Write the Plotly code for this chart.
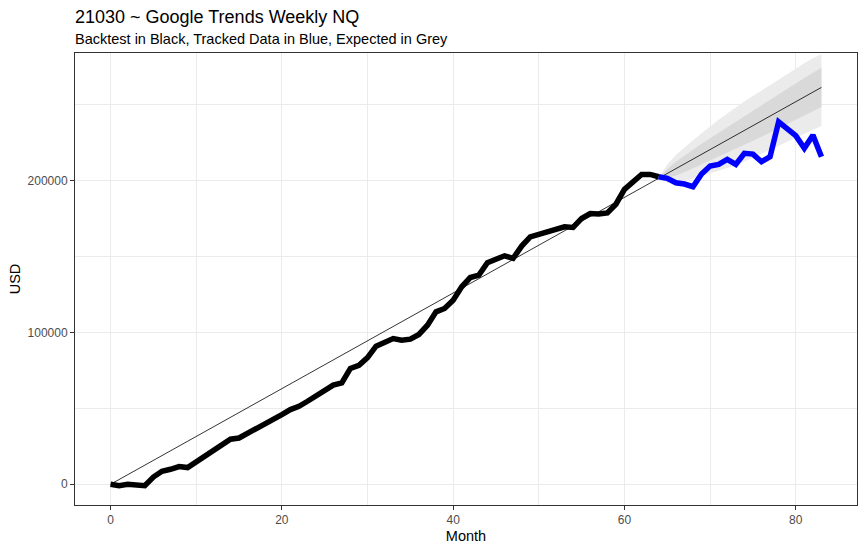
import plotly.graph_objects as go

# Backtest (black), months 0..64
backtest_months = list(range(0, 65))
backtest_usd = [
    0, -900, 0, -900, -900, 4800, 8600, 9900, 11700, 11000,
    14700, 18000, 22400, 26400, 29700, 30500, 33400, 36700, 39300, 42200,
    45900, 49200, 51400, 54700, 58000, 62000, 65300, 66800, 76300, 78400,
    83400, 91000, 93800, 96000, 94900, 95600, 98700, 104800, 113600, 115800,
    121300, 130100, 136200, 137800, 145900, 148100, 150500, 148800, 156900, 163000,
    164600, 166300, 167400, 169600, 169200, 175100, 178400, 178000, 178800, 184500,
    194300, 199300, 204100, 204100, 202600,
]

# Tracked data (blue), months 64..83
tracked_months = list(range(64, 84))
tracked_usd = [
    202600, 201500, 198600, 197800, 196000, 204400, 209600, 210700, 214000, 210700,
    218000, 217500, 212500, 215800, 238800, 234500, 229600, 221300, 230000, 215800,
]

# Expected path (thin black line)
expected_months = [0, 20, 40, 60, 64, 83]
expected_usd = [0, 63000, 126000, 189000, 201600, 261450]

# Expected ranges (grey), months 64..83
band_months = list(range(64, 84))
hi95 = [201600, 210700, 216900, 222000, 226700, 231300, 236000, 240100, 244300, 248400,
        252100, 255700, 259400, 263000, 266600, 270200, 273800, 277400, 280700, 283200]
lo95 = [201600, 198700, 198900, 199600, 201200, 202900, 204500, 206500, 208300, 210000,
        212600, 215000, 217800, 220300, 223000, 225600, 228200, 230900, 233600, 236000]
hi80 = [201600, 207750, 212400, 216550, 220700, 224350, 228000, 231650, 235300, 238950,
        242600, 246250, 249900, 253550, 257000, 260550, 264000, 267550, 271000, 274450]
lo80 = [201600, 201750, 203400, 205550, 207700, 210350, 213000, 215650, 218300, 220950,
        223600, 226250, 228900, 231550, 234400, 237150, 240000, 242750, 245600, 248450]

fig = go.Figure()

# outer band
fig.add_trace(go.Scatter(x=band_months + band_months[::-1], y=hi95 + lo95[::-1],
                         fill="toself", fillcolor="#EBEBEB", line=dict(width=0),
                         mode="lines", hoverinfo="skip"))
# inner band
fig.add_trace(go.Scatter(x=band_months + band_months[::-1], y=hi80 + lo80[::-1],
                         fill="toself", fillcolor="#D9D9D9", line=dict(width=0),
                         mode="lines", hoverinfo="skip"))

fig.add_trace(go.Scatter(x=expected_months, y=expected_usd, mode="lines",
                         line=dict(color="black", width=0.8)))
fig.add_trace(go.Scatter(x=backtest_months, y=backtest_usd, mode="lines",
                         line=dict(color="black", width=5.5)))
fig.add_trace(go.Scatter(x=tracked_months, y=tracked_usd, mode="lines",
                         line=dict(color="#0000FF", width=5.5)))

axis_font = dict(family="Liberation Sans, Arial, sans-serif", size=12, color="#4D4D4D")
title_font = dict(family="Liberation Sans, Arial, sans-serif", size=14.5, color="black")

fig.update_layout(
    width=865, height=551,
    margin=dict(l=75, r=8, t=53, b=46, autoexpand=False),
    paper_bgcolor="white", plot_bgcolor="white",
    showlegend=False,
    font=dict(family="Liberation Sans, Arial, sans-serif"),
    annotations=[
        dict(text="21030 ~ Google Trends Weekly NQ", xref="paper", yref="paper",
             x=0, y=1.0796, xanchor="left", yanchor="middle", showarrow=False,
             xshift=-2, font=dict(size=18, color="black")),
        dict(text="Backtest in Black, Tracked Data in Blue, Expected in Grey",
             xref="paper", yref="paper", x=0, y=1.031, xanchor="left",
             xshift=-2, yanchor="middle", showarrow=False,
             font=dict(size=14.5, color="black")),
    ],
)

fig.update_xaxes(
    range=[-4.15, 87.15], tickvals=[0, 20, 40, 60, 80],
    showgrid=True, gridcolor="#EBEBEB", gridwidth=1,
    minor=dict(tickvals=[10, 30, 50, 70], showgrid=True, gridcolor="#EBEBEB", gridwidth=0.6),
    ticks="outside", ticklen=4, tickcolor="#333333",
    showline=True, linecolor="#333333", linewidth=1, mirror=True,
    zeroline=False, tickfont=axis_font, automargin=False,
    title=dict(text="Month", font=title_font, standoff=4),
)
fig.update_yaxes(
    range=[-13640, 284100], tickvals=[0, 100000, 200000], tickformat="d",
    showgrid=True, gridcolor="#EBEBEB", gridwidth=1,
    minor=dict(tickvals=[50000, 150000, 250000], showgrid=True, gridcolor="#EBEBEB", gridwidth=0.6),
    ticks="outside", ticklen=4, tickcolor="#333333",
    showline=True, linecolor="#333333", linewidth=1, mirror=True,
    zeroline=False, tickfont=axis_font, automargin=False,
    title=dict(text="USD", font=title_font, standoff=3),
)

# drop the default page margin so the figure sits at the window corner
fig.write_html("out.html", config={"displayModeBar": False},
               post_script="document.body.style.margin = '0';")
